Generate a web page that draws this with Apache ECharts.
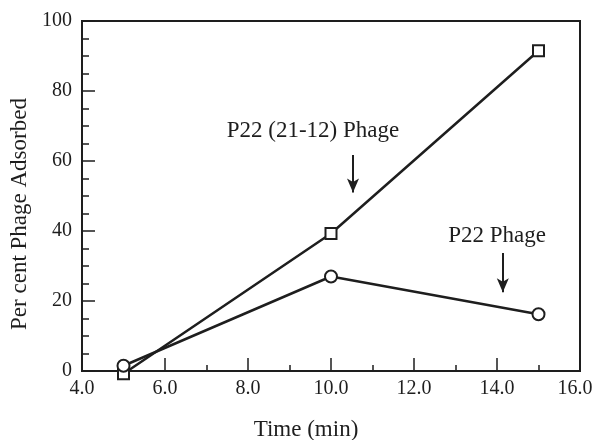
<!DOCTYPE html>
<html>
<head>
<meta charset="utf-8">
<script src="https://cdn.jsdelivr.net/npm/echarts@6/dist/echarts.min.js"></script>
<style>
  html, body { margin: 0; padding: 0; background: #fff; }
  #main { width: 592px; height: 440px; }
</style>
</head>
<body>
<div id="main"></div>
<script>
// data
var timeMin = [5, 10, 15];
var mutantPct = [-0.8, 39.3, 91.5];   // P22 (21-12) Phage, squares
var wildPct = [1.5, 27.0, 16.2];      // P22 Phage, circles
// arrows: [x, yTop, yBottom]
var mutantArrow = [10.53, 61.7, 51];
var wildArrow = [14.14, 33.7, 22.5];

(function () {
  var myChart = echarts.init(document.getElementById('main'));
  var ink = '#1e1e1e';
  var font = 'Liberation Serif';

  function pairs(xs, ys) {
    return xs.map(function (x, i) { return [x, ys[i]]; });
  }
  function arrow(a) {
    return [{ coord: [a[0], a[1]] }, { coord: [a[0], a[2]] }];
  }

  var option = {
    animation: false,
    grid: {
      left: 82, right: 12, top: 21, bottom: 69,
      outerBoundsMode: 'none',
      containLabel: false,
      show: true, borderColor: ink, borderWidth: 2, backgroundColor: 'transparent'
    },
    xAxis: {
      type: 'value',
      min: 4, max: 16, interval: 2,
      name: 'Time (min)',
      nameLocation: 'middle',
      nameGap: 47,
      nameTextStyle: { fontFamily: font, fontSize: 23, color: ink, padding: [0, 50, 0, 0] },
      axisLine: { lineStyle: { color: ink, width: 2 } },
      axisTick: { inside: true, length: 13, lineStyle: { color: ink, width: 1.5 } },
      minorTick: { show: true, splitNumber: 2, length: 6, lineStyle: { color: ink, width: 1.5 } },
      splitLine: { show: false },
      axisLabel: {
        fontFamily: font, fontSize: 20, color: ink, margin: 8,
        formatter: function (v) {
          // last label sits a bit left so it stays inside the page
          return v === 16 ? '{last|' + v.toFixed(1) + '}' : v.toFixed(1);
        },
        rich: {
          last: { fontFamily: font, fontSize: 20, color: ink, padding: [0, 10, 0, 0] }
        }
      }
    },
    yAxis: {
      type: 'value',
      min: 0, max: 100, interval: 20,
      name: 'Per cent Phage Adsorbed',
      nameLocation: 'middle',
      nameGap: 46,
      nameTextStyle: { fontFamily: font, fontSize: 23, color: ink, padding: [0, 36, 0, 0] },
      axisLine: { lineStyle: { color: ink, width: 2 } },
      axisTick: { inside: true, length: 13, lineStyle: { color: ink, width: 1.5 } },
      minorTick: { show: true, splitNumber: 4, length: 7, lineStyle: { color: ink, width: 1.5 } },
      splitLine: { show: false },
      axisLabel: { fontFamily: font, fontSize: 20, color: ink, margin: 10 }
    },
    series: [
      {
        name: 'P22 (21-12) Phage',
        type: 'line',
        data: pairs(timeMin, mutantPct),
        clip: false,
        symbol: 'rect',
        symbolSize: 11,
        showAllSymbol: true,
        lineStyle: { color: ink, width: 2.5 },
        itemStyle: { color: '#fff', borderColor: ink, borderWidth: 2 },
        z: 3,
        markLine: {
          silent: true,
          symbol: ['none', 'arrow'],
          symbolSize: [9, 14],
          label: { show: false },
          lineStyle: { color: ink, width: 2, type: 'solid' },
          data: [arrow(mutantArrow), arrow(wildArrow)]
        }
      },
      {
        name: 'P22 Phage',
        type: 'line',
        data: pairs(timeMin, wildPct),
        clip: false,
        symbol: 'circle',
        symbolSize: 12,
        showAllSymbol: true,
        lineStyle: { color: ink, width: 2.5 },
        itemStyle: { color: '#fff', borderColor: ink, borderWidth: 2 },
        z: 4
      }
    ],
    graphic: [
      {
        type: 'text', x: 313, y: 131,
        style: { text: 'P22 (21-12) Phage', fontFamily: font, fontSize: 23, fill: ink,
                 align: 'center', verticalAlign: 'middle' }
      },
      {
        type: 'text', x: 497, y: 236,
        style: { text: 'P22 Phage', fontFamily: font, fontSize: 23, fill: ink,
                 align: 'center', verticalAlign: 'middle' }
      }
    ]
  };

  myChart.setOption(option);
  window.addEventListener('resize', function () {
    myChart.resize();
  });
})();
</script>
</body>
</html>
